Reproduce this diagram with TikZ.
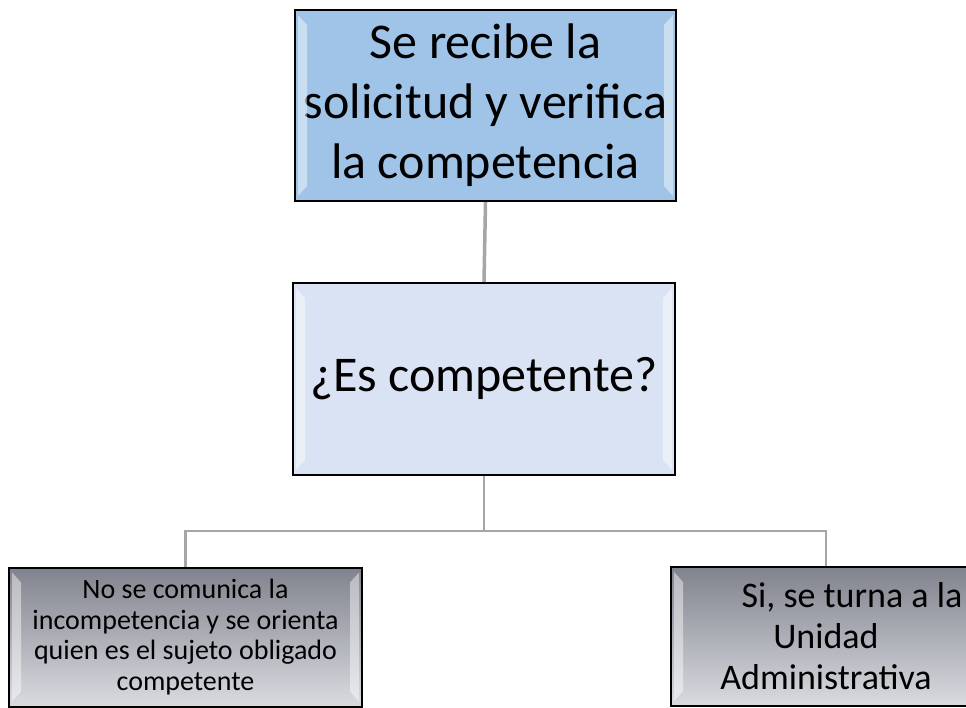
\documentclass[tikz,border=0pt]{standalone}
\usepackage{fontspec}
\setmainfont{Carlito}
\usepackage{xcolor}
\usepackage{tikz}

\definecolor{azulcaja}{HTML}{9FC4E7}
\definecolor{azulclaro}{HTML}{DAE3F3}
\definecolor{grisarriba}{HTML}{80838D}
\definecolor{grisabajo}{HTML}{D9DBE0}
\definecolor{gualda}{HTML}{A6A6A6}

\tikzset{
  caja/.style={draw=black, line width=2pt, inner sep=0pt, align=center},
  conector/.style={draw=gualda, line width=2.5pt},
}

% brillo lateral de cada caja
\newcommand{\bisel}[1]{
  \fill[white, opacity=0.45]
    ([xshift=4pt,yshift=-6pt]#1.north west) -- ([xshift=13pt,yshift=-16pt]#1.north west)
    -- ([xshift=13pt,yshift=16pt]#1.south west) -- ([xshift=4pt,yshift=6pt]#1.south west) -- cycle;
  \fill[white, opacity=0.45]
    ([xshift=-4pt,yshift=-6pt]#1.north east) -- ([xshift=-13pt,yshift=-16pt]#1.north east)
    -- ([xshift=-13pt,yshift=16pt]#1.south east) -- ([xshift=-4pt,yshift=6pt]#1.south east) -- cycle;
}

\begin{document}
\begin{tikzpicture}[x=1pt, y=-1pt]
  \useasboundingbox (0,0) rectangle (966,708);
  \clip (0,0) rectangle (966,708);

  \node[caja, fill=azulcaja, minimum width=381pt, minimum height=191pt,
    font=\fontsize{50}{60}\selectfont] (recibe) at (485.5,105.5)
    {Se recibe la\\solicitud y verifica\\la competencia};
  \node[caja, fill=azulclaro, minimum width=382pt, minimum height=192pt,
    font=\fontsize{50}{60}\selectfont] (pregunta) at (484,379)
    {¿Es competente?};
  \node[caja, top color=grisarriba, bottom color=grisabajo, minimum width=353pt,
    minimum height=139pt, font=\fontsize{28}{30.7}\selectfont] (nocomp) at (185.5,637)
    {No se comunica la\\incompetencia y se orienta\\quien es el sujeto obligado\\competente};
  \node[caja, top color=grisarriba, bottom color=grisabajo, minimum width=310pt,
    minimum height=139pt, font=\fontsize{36}{41}\selectfont] (turna) at (826,636.5)
    {\hspace*{52pt}Si, se turna a la\\Unidad\\Administrativa};

  \bisel{recibe}
  \bisel{pregunta}
  \bisel{nocomp}
  \bisel{turna}

  \draw[conector, line width=3.5pt] (recibe.south) -- (pregunta.north);
  \draw[conector] (pregunta.south) -- ++(0,55) -| (nocomp.north);
  \draw[conector] (pregunta.south) -- ++(0,55) -| (turna.north);
\end{tikzpicture}
\end{document}
